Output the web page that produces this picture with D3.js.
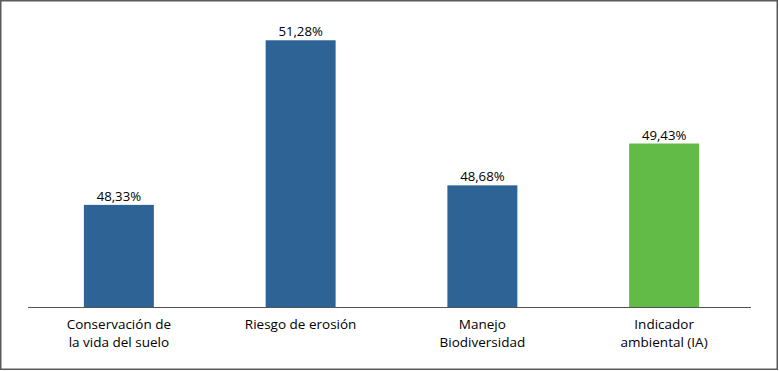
<!DOCTYPE html>
<html>
<head>
<meta charset="utf-8">
<script src="https://cdn.jsdelivr.net/npm/d3@7"></script>
<style>
    body { margin: 0; background: #fff; }
    .val_txt { font-family: 'Open Sans', sans-serif; font-size: 13.2px; fill: #000; }
    .xAxis text { font-family: 'Open Sans', sans-serif; font-size: 13.5px; fill: #000; }
</style>
</head>
<body>
<div id="chart"></div>
<script>
var categories = [
    ['Conservación de', 'la vida del suelo'],
    ['Riesgo de erosión'],
    ['Manejo', 'Biodiversidad'],
    ['Indicador', 'ambiental (IA)']
];
var values = [48.33, 51.28, 48.68, 49.43];
var barColors = ['#2e6495', '#2e6495', '#2e6495', '#62bb46'];
var yDomain = [46.5, 51.5];

var cfg = {
    w: 779,
    h: 371,
    left: 28,
    right: 755,
    axisEnd: 751,
    base: 307,
    top: 28
};

var data = values.map(function (v, i) {
    return { name: categories[i], value: v, color: barColors[i] };
});

var svg = d3.select('#chart').append('svg')
    .attr('width', cfg.w)
    .attr('height', cfg.h);

// frame
svg.append('rect')
    .attr('x', 0.75).attr('y', 0.75)
    .attr('width', 776.5).attr('height', 368.5)
    .attr('fill', 'none')
    .attr('stroke', '#5a5a5a')
    .attr('stroke-width', 1.5);

var x = d3.scaleBand()
    .domain(d3.range(data.length))
    .range([cfg.left, cfg.right])
    .paddingInner(0.615)
    .paddingOuter(0.3075);

var y = d3.scaleLinear()
    .domain(yDomain)
    .range([cfg.base, cfg.top]);

// bars
svg.append('g')
    .selectAll('rect')
    .data(data)
    .enter()
    .append('rect')
    .attr('x', function (d, i) { return x(i); })
    .attr('y', function (d) { return y(d.value); })
    .attr('width', x.bandwidth())
    .attr('height', function (d) { return cfg.base - y(d.value); })
    .attr('fill', function (d) { return d.color; });

// value labels
svg.selectAll('.val_txt')
    .data(data)
    .enter()
    .append('text')
    .classed('val_txt', true)
    .attr('text-anchor', 'middle')
    .attr('x', function (d, i) { return x(i) + x.bandwidth() / 2; })
    .attr('y', function (d) { return y(d.value) - 4; })
    .text(function (d) { return d3.format('.2f')(d.value).replace('.', ',') + '%'; });

// x axis
var xAxis = d3.axisBottom(x).tickSize(0).tickFormat('');
var gx = svg.append('g')
    .classed('xAxis', true)
    .attr('transform', 'translate(0,' + cfg.base + ')')
    .call(xAxis);
gx.select('.domain').remove();
gx.append('line')
    .attr('x1', cfg.left).attr('x2', cfg.axisEnd)
    .attr('y1', 0.5).attr('y2', 0.5)
    .attr('stroke', '#555')
    .attr('stroke-width', 1.2);

gx.selectAll('.tick text')
    .attr('y', 0)
    .attr('dy', 0)
    .each(function (d) {
        var t = d3.select(this);
        data[d].name.forEach(function (line, k) {
            t.append('tspan')
                .attr('x', 0)
                .attr('y', 22 + k * 17.5)
                .text(line);
        });
    });
</script>
</body>
</html>
